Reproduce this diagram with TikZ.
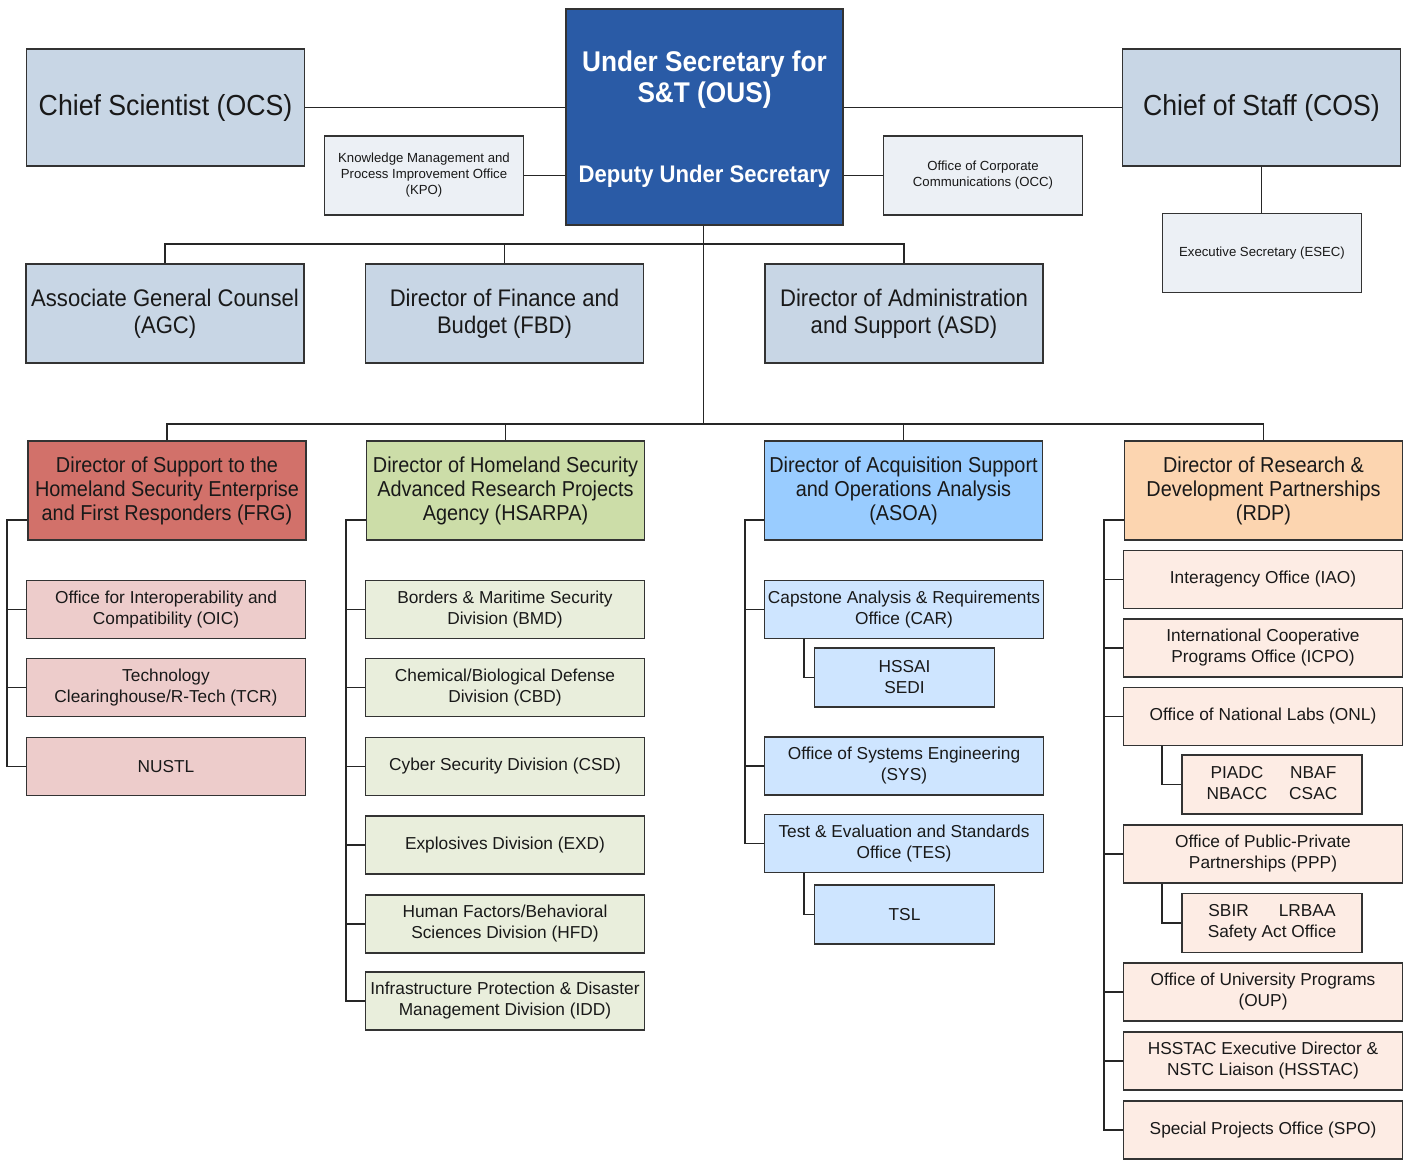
\documentclass[tikz,border=0pt]{standalone}
\usepackage{fontspec}
\setmainfont{Liberation Sans}
\newfontfamily\narrowfont{Liberation Sans}[FakeStretch=0.92]
\usetikzlibrary{calc,positioning}
\definecolor{steel}{RGB}{200,214,229}
\definecolor{navy}{RGB}{42,91,166}
\definecolor{pale}{RGB}{236,240,245}
\definecolor{frgred}{RGB}{210,113,106}
\definecolor{frgsub}{RGB}{237,204,203}
\definecolor{hsagreen}{RGB}{204,221,168}
\definecolor{hsasub}{RGB}{233,238,220}
\definecolor{asoablue}{RGB}{153,204,255}
\definecolor{asoasub}{RGB}{206,229,255}
\definecolor{rdporange}{RGB}{252,213,176}
\definecolor{rdpsub}{RGB}{253,236,228}
\newcommand\bigtxt{\narrowfont\fontsize{29}{32}\selectfont}
\newcommand\midtxt{\narrowfont\fontsize{24}{27}\selectfont}
\newcommand\headtxt{\narrowfont\fontsize{21.6}{24}\selectfont}
\newcommand\ustxt{\narrowfont\bfseries\fontsize{28.5}{31}\selectfont}
\newcommand\deptxt{\narrowfont\bfseries\fontsize{24}{27}\selectfont}
\newcommand\subtxt{\fontsize{17.3}{21}\selectfont}
\newcommand\tinytxt{\fontsize{13.2}{16}\selectfont}
\begin{document}
\begin{tikzpicture}[x=1pt,y=-1pt,
  org/.style={draw=black!80,line width=1.5pt,inner sep=0pt,align=center,text=black!90},
  link/.style={line width=1.5pt,black!85},
  chief/.style={org,fill=steel,minimum width=278,minimum height=117,font=\bigtxt},
  staff/.style={org,fill=pale,minimum width=199,minimum height=79,font=\tinytxt},
  office/.style={org,fill=steel,minimum width=278,minimum height=99,font=\midtxt},
  director/.style={org,minimum width=278,minimum height=99,font=\headtxt},
  division/.style={org,minimum width=279,minimum height=58,font=\subtxt},
  lab/.style={org,minimum width=180,minimum height=59,font=\subtxt}]
\useasboundingbox (0,0) rectangle (1403,1161);

% front office
\node[org,fill=navy,minimum width=277,minimum height=216] (ous) at (704.5,117) {};
\node[text=white,align=center,font=\ustxt] (ousname) at (704.5,80) {Under Secretary for\\S\&T (OUS)};
\node[text=white,font=\deptxt] (ousdep) at (704.5,176) {Deputy Under Secretary};
\node[chief] (ocs) at (165.5,107.5) {Chief Scientist (OCS)};
\node[chief] (cos) at (1261.5,107.5) {Chief of Staff (COS)};
\node[staff] (kpo) at (424,175.5) {Knowledge Management and\\Process Improvement Office\\(KPO)};
\node[staff] (occ) at (983,175.5) {Office of Corporate\\Communications (OCC)};
\node[staff] (esec) at (1262,253) {Executive Secretary (ESEC)};
\draw[link] (ocs.east) -- (ocs.east -| ous.west);
\draw[link] (ous.east |- cos.west) -- (cos.west);
\draw[link] (kpo.east) -- (kpo.east -| ous.west);
\draw[link] (ous.east |- occ.west) -- (occ.west);
\draw[link] (cos.south) -- (cos.south |- esec.north);

% support offices
\coordinate (bus1) at (703.5,244);
\coordinate (bus2) at (703.5,424);
\node[office] (agc) at (165,313.5) {Associate General Counsel\\(AGC)};
\node[office] (fbd) at (504.5,313.5) {Director of Finance and\\Budget (FBD)};
\node[office] (asd) at (904,313.5) {Director of Administration\\and Support (ASD)};
\draw[link] (ous.south -| bus1) -- (bus2);
\draw[link] (agc.north) -- (agc.north |- bus1) -| (asd.north);
\draw[link] (fbd.north) -- (fbd.north |- bus1);

% directorates
\node[director,fill=frgred] (frg) at (167,490.5) {Director of Support to the\\Homeland Security Enterprise\\and First Responders (FRG)};
\node[director,fill=hsagreen] (hsarpa) at (505.5,490.5) {Director of Homeland Security\\Advanced Research Projects\\Agency (HSARPA)};
\node[director,fill=asoablue] (asoa) at (903.5,490.5) {Director of Acquisition Support\\and Operations Analysis\\(ASOA)};
\node[director,fill=rdporange] (rdp) at (1263.5,490.5) {Director of Research \&\\Development Partnerships\\(RDP)};
\draw[link] (frg.north) -- (frg.north |- bus2) -| (rdp.north);
\foreach \d in {hsarpa,asoa}
  \draw[link] (\d.north) -- (\d.north |- bus2);

% FRG
\node[division,fill=frgsub] (oic) at (166,609.5) {Office for Interoperability and\\Compatibility (OIC)};
\node[division,fill=frgsub] (tcr) at (166,687.5) {Technology\\Clearinghouse/R-Tech (TCR)};
\node[division,fill=frgsub] (nustl) at (166,766.5) {NUSTL};
\coordinate (frgsp) at (7,520);
\draw[link] (frgsp -| frg.west) -- (frgsp) |- (nustl.west);
\foreach \n in {oic,tcr}
  \draw[link] (frgsp |- \n.west) -- (\n.west);

% HSARPA
\node[division,fill=hsasub] (bmd) at (505,609.5) {Borders \& Maritime Security\\Division (BMD)};
\node[division,fill=hsasub] (cbd) at (505,687.5) {Chemical/Biological Defense\\Division (CBD)};
\node[division,fill=hsasub] (csd) at (505,766.5) {Cyber Security Division (CSD)};
\node[division,fill=hsasub] (exd) at (505,845) {Explosives Division (EXD)};
\node[division,fill=hsasub] (hfd) at (505,924) {Human Factors/Behavioral\\Sciences Division (HFD)};
\node[division,fill=hsasub] (idd) at (505,1001) {Infrastructure Protection \& Disaster\\Management Division (IDD)};
\coordinate (hsasp) at (346,520);
\draw[link] (hsasp -| hsarpa.west) -- (hsasp) |- (idd.west);
\foreach \n in {bmd,cbd,csd,exd,hfd}
  \draw[link] (hsasp |- \n.west) -- (\n.west);

% ASOA
\node[division,fill=asoasub] (car) at (904,609.5) {Capstone Analysis \& Requirements\\Office (CAR)};
\node[lab,fill=asoasub] (hssai) at (904.5,677.5) {HSSAI\\SEDI};
\node[division,fill=asoasub] (sys) at (904,766) {Office of Systems Engineering\\(SYS)};
\node[division,fill=asoasub] (tes) at (904,843.5) {Test \& Evaluation and Standards\\Office (TES)};
\node[lab,fill=asoasub] (tsl) at (904.5,914.5) {TSL};
\coordinate (asoasp) at (745,520);
\draw[link] (asoasp -| asoa.west) -- (asoasp) |- (tes.west);
\foreach \n in {car,sys}
  \draw[link] (asoasp |- \n.west) -- (\n.west);
\draw[link] (car.south west) ++(40,0) |- (hssai.west);
\draw[link] (tes.south west) ++(40,0) |- (tsl.west);

% RDP
\node[division,fill=rdpsub] (iao) at (1263,579.5) {Interagency Office (IAO)};
\node[division,fill=rdpsub] (icpo) at (1263,648) {International Cooperative\\Programs Office (ICPO)};
\node[division,fill=rdpsub] (onl) at (1263,716.5) {Office of National Labs (ONL)};
\node[lab,fill=rdpsub] (labs) at (1272,784.5) {\begin{tabular}{@{}c@{\hspace{22pt}}c@{}}PIADC & NBAF\\NBACC & CSAC\end{tabular}};
\node[division,fill=rdpsub] (ppp) at (1263,854) {Office of Public-Private\\Partnerships (PPP)};
\node[lab,fill=rdpsub] (sbir) at (1272,923) {SBIR\hspace{30pt}LRBAA\\Safety Act Office};
\node[division,fill=rdpsub] (oup) at (1263,992) {Office of University Programs\\(OUP)};
\node[division,fill=rdpsub] (hsstac) at (1263,1061) {HSSTAC Executive Director \&\\NSTC Liaison (HSSTAC)};
\node[division,fill=rdpsub] (spo) at (1263,1130) {Special Projects Office (SPO)};
\coordinate (rdpsp) at (1104,520);
\draw[link] (rdpsp -| rdp.west) -- (rdpsp) |- (spo.west);
\foreach \n in {iao,icpo,onl,ppp,oup,hsstac}
  \draw[link] (rdpsp |- \n.west) -- (\n.west);
\draw[link] (onl.south west) ++(39,0) |- (labs.west);
\draw[link] (ppp.south west) ++(39,0) |- (sbir.west);
\end{tikzpicture}
\end{document}
